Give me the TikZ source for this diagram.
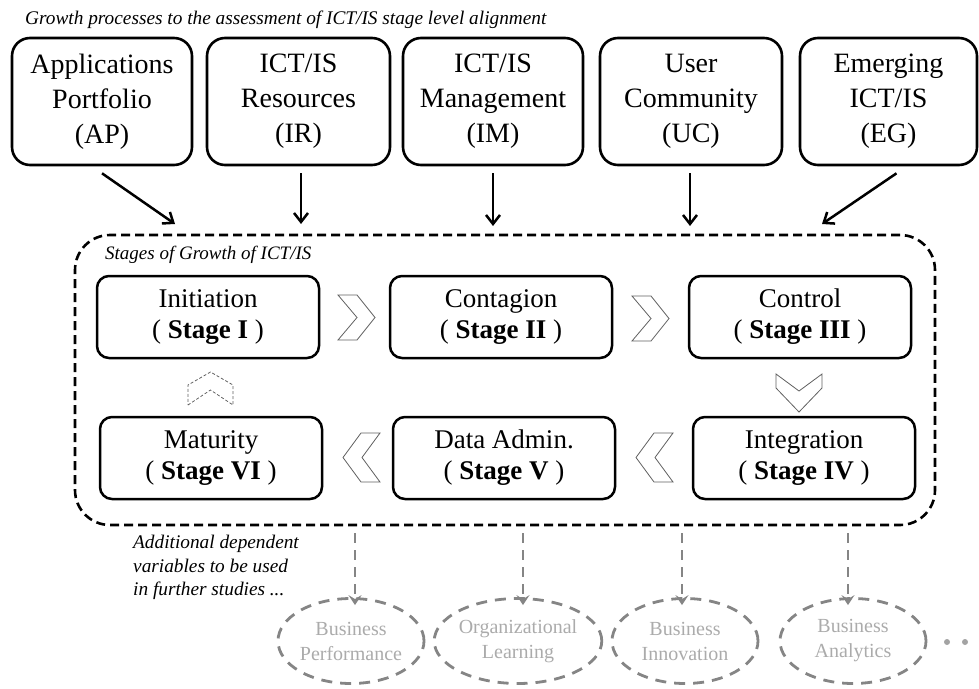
\documentclass[tikz,border=0pt]{standalone}
\usepackage{fontspec}
\setmainfont{Liberation Serif}
\usetikzlibrary{arrows.meta,shapes.geometric}
\definecolor{chevgray}{HTML}{606060}
\definecolor{dashgray}{HTML}{858585}
\definecolor{txtgray}{HTML}{ABABAB}
\begin{document}
\begin{tikzpicture}[x=1pt,y=-1pt,
  topbox/.style={draw, line width=2.6pt, rounded corners=18pt, minimum height=127pt,
    align=center, font=\fontsize{28}{35}\selectfont, inner sep=0pt},
  stagebox/.style={draw, line width=2.5pt, rounded corners=12pt, minimum width=222pt,
    minimum height=82pt, align=center, font=\fontsize{27}{31}\selectfont, inner sep=0pt},
  outerbox/.style={draw, line width=2.6pt, dash pattern=on 9pt off 5pt, rounded corners=35pt,
    minimum width=860pt, minimum height=290pt, inner sep=0pt},
  toparrow/.style={line width=2.5pt, -{Straight Barb[length=9pt,width=14pt,line width=2.5pt]}},
  chev/.style={draw=chevgray, line width=0.8pt, line join=miter},
  chevdash/.style={draw=chevgray, line width=0.8pt, dash pattern=on 3pt off 2pt},
  outvar/.style={ellipse, draw=dashgray, line width=2.8pt, dash pattern=on 11pt off 8pt,
    minimum width=146pt, minimum height=85pt, align=center, text=txtgray,
    font=\fontsize{20}{25}\selectfont, inner sep=0pt},
  grayarrow/.style={draw=dashgray, line width=2.8pt, dash pattern=on 10pt off 7pt,
    -{Stealth[length=10pt,width=13pt,inset=4pt]}},
  caption/.style={font=\fontsize{19.3}{23.5}\selectfont\itshape, inner sep=0pt, align=left}
]
\useasboundingbox (0,0) rectangle (979,688);

% title
\node[caption, anchor=west] (title) at (25,20) {Growth processes to the assessment of ICT/IS stage level alignment};

% top boxes
\node[topbox, minimum width=180pt] (ap) at (102,101.5) {Applications\\Portfolio\\(AP)};
\node[topbox, minimum width=183pt] (ir) at (298.5,101.5) {ICT/IS\\Resources\\(IR)};
\node[topbox, minimum width=180pt] (im) at (493,101.5) {ICT/IS\\Management\\(IM)};
\node[topbox, minimum width=182pt] (uc) at (691,101.5) {User\\Community\\(UC)};
\node[topbox, minimum width=177pt] (eg) at (888.5,101.5) {Emerging\\ICT/IS\\(EG)};

% outer dashed box
\node[outerbox] (outer) at (505,380) {};
\node[caption, anchor=west, font=\fontsize{19}{22}\selectfont\itshape] (stlabel) at (105,255) {Stages of Growth of ICT/IS};

% arrow targets on outer box
\coordinate (t1) at (175,224);
\coordinate (t2) at (301,224);
\coordinate (t3) at (493,226);
\coordinate (t4) at (690,226);
\coordinate (t5) at (822,224);
\draw[toparrow] ([yshift=-7pt]ap.south) -- (t1);
\draw[toparrow] ([xshift=2.5pt,yshift=-7pt]ir.south) -- (t2);
\draw[toparrow] ([yshift=-7pt]im.south) -- (t3);
\draw[toparrow] ([xshift=-1pt,yshift=-7pt]uc.south) -- (t4);
\draw[toparrow] ([xshift=8pt,yshift=-7pt]eg.south) -- (t5);

% stage boxes
\node[stagebox] (s1) at (208,317) {Initiation\\( \textbf{Stage I} )};
\node[stagebox] (s2) at (501,317) {Contagion\\( \textbf{Stage II} )};
\node[stagebox] (s3) at (800,317) {Control\\( \textbf{Stage III} )};
\node[stagebox] (s4) at (804,458) {Integration\\( \textbf{Stage IV} )};
\node[stagebox] (s5) at (504,458) {Data Admin.\\( \textbf{Stage V} )};
\node[stagebox] (s6) at (211,458) {Maturity\\( \textbf{Stage VI} )};

% chevrons right (row 1)
\draw[chev] (338,295) -- (357,295) -- (375,317.5) -- (357,340) -- (338,340) -- (357,317.5) -- cycle;
\draw[chev] (632,296) -- (651,296) -- (669,318.5) -- (651,341) -- (632,341) -- (651,318.5) -- cycle;
% chevron down
\draw[chev] (776,374) -- (799,391) -- (822,374) -- (822,388) -- (799,412) -- (776,388) -- cycle;
% chevrons left (row 2)
\draw[chev] (380,433) -- (361,433) -- (343,457.5) -- (361,482) -- (380,482) -- (362,457.5) -- cycle;
\draw[chev] (673,433) -- (654,433) -- (636,457.5) -- (654,482) -- (673,482) -- (655,457.5) -- cycle;
% dashed chevron up
\draw[chevdash] (188,405) -- (210.5,390) -- (233,405) -- (233,385) -- (210.5,372) -- (188,385) -- cycle;

% additional variables
\node[caption, anchor=north west] (addl) at (133,535) {Additional dependent\\variables to be used\\in further studies ...};

\node[outvar] (e1) at (351,641) {Business\\Performance};
\node[outvar] (e2) at (518,641) {Organizational\\Learning};
\node[outvar] (e3) at (685,641) {Business\\Innovation};
\node[outvar] (e4) at (853,641) {Business\\Analytics};

\foreach \e/\dx in {e1/4,e2/5,e3/-3,e4/-5}{
  \draw[grayarrow] ([xshift=\dx pt]\e.north |- outer.south) ++(0,7) -- ([xshift=\dx pt,yshift=-8pt]\e.north);
}

\fill[txtgray!80!dashgray] (947,642) circle (3pt) (965,642) circle (3pt);
\end{tikzpicture}
\end{document}
